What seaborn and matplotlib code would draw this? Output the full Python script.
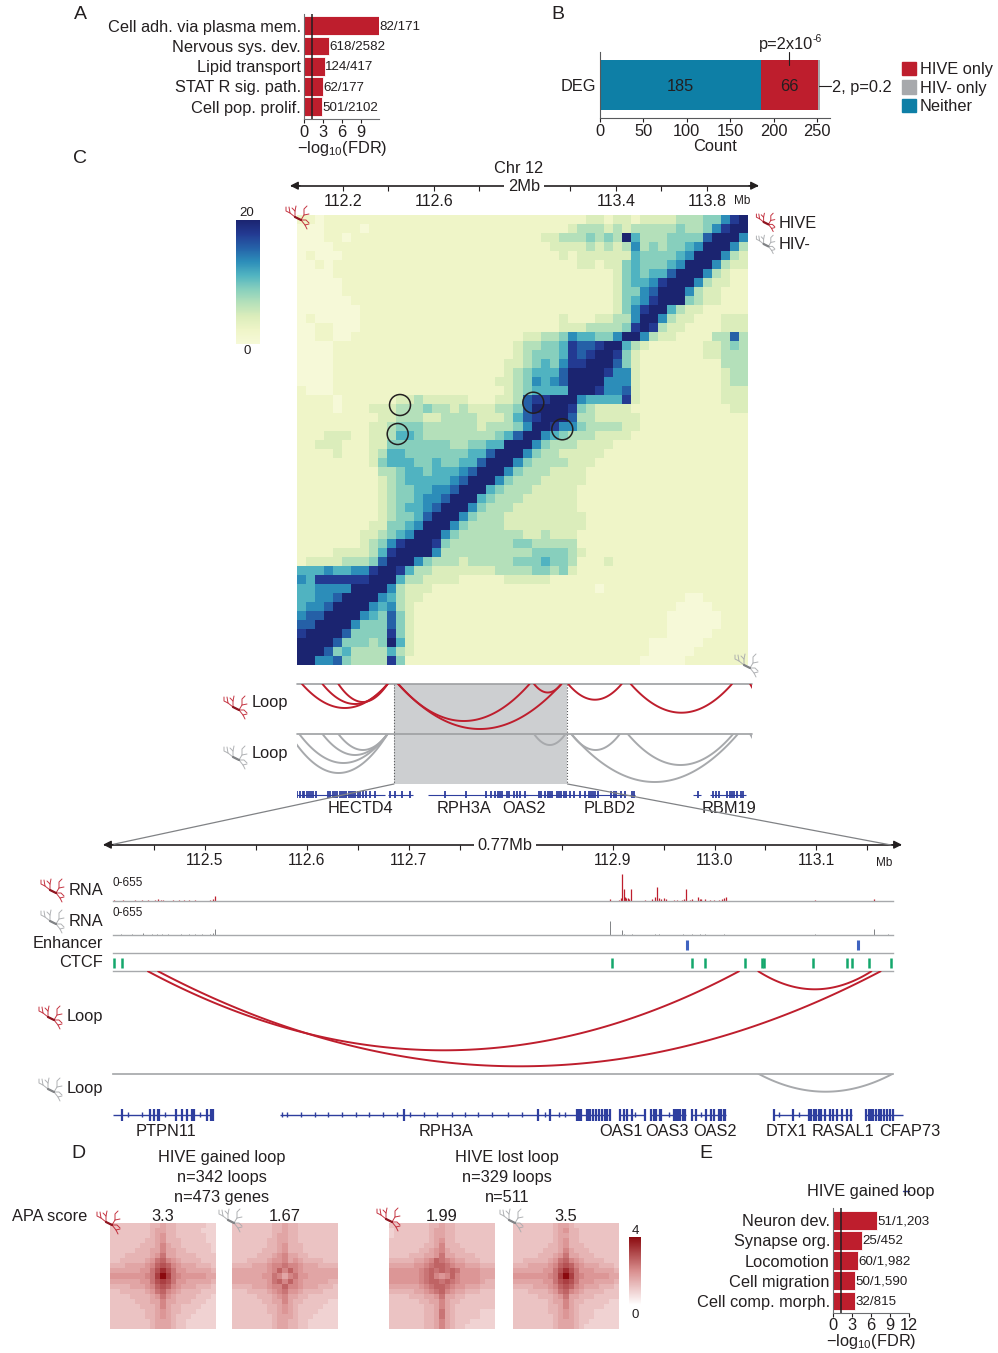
import numpy as np
import pandas as pd
import matplotlib
matplotlib.use('Agg')
import matplotlib.pyplot as plt
from matplotlib.patches import Circle, Rectangle, Patch
import seaborn as sns

sns.set_theme(style='white')
plt.rcParams['font.family'] = ['Liberation Sans', 'DejaVu Sans']
plt.rcParams['mathtext.default'] = 'regular'
plt.rcParams['text.color'] = '#231f20'
plt.rcParams['axes.labelcolor'] = '#231f20'
plt.rcParams['xtick.color'] = '#231f20'
plt.rcParams['ytick.color'] = '#231f20'

W, H = 998, 1353
RED = '#be1e2d'
GREY = '#a7a9ac'
TEAL = '#0e7fa6'
BLUE = '#2e3e9e'
FS = 11.8

# ------ panel A ------
a_terms = ['Cell adh. via plasma mem.', 'Nervous sys. dev.', 'Lipid transport', 'STAT R sig. path.', 'Cell pop. prolif.']
a_fdr = [11.8, 3.9, 3.3, 3.0, 2.9]
a_counts = ['82/171', '618/2582', '124/417', '62/177', '501/2102']

# ------ panel B ------
b_neither = 185
b_hive = 66
b_hiv = 2

# ------ panel E ------
e_terms = ['Neuron dev.', 'Synapse org.', 'Locomotion', 'Cell migration', 'Cell comp. morph.']
e_fdr = [7.05, 4.7, 3.95, 3.5, 3.5]
e_counts = ['51/1,203', '25/452', '60/1,982', '50/1,590', '32/815']

# ------ Hi-C matrix, levels 0-9 (20 = level 9) ------
hic_rows = [
    "1101111111 1111111111 1111111111 1122122122 2233344689",
    "0001111011 1111111111 1111111111 2333232333 3343346899",
    "0001101111 1111111111 1111111223 3343439533 3444479996",
    "0000111111 1111111111 1111111122 2232323634 3445699963",
    "0100011111 1111111111 1111111112 1222222544 4456999632",
    "0010111111 1111111111 1111111111 1221224544 4569996322",
    "0000111111 1111111111 1111111111 1111124545 5799963211",
    "0000011111 1111111111 1111111111 1111124556 8999632211",
    "0000011111 1111111111 1111111111 1111124467 9996322111",
    "0000001111 1111111111 1111111111 1111124568 9994322111",
    "0000000111 1111111111 1111111111 1111124689 9532211111",
    "0100000111 1111111111 1111111112 1112233699 6322111222",
    "0011000111 1111111111 1111111112 2233334898 3221111222",
    "0011001111 1111111111 1111122334 6554469963 2211113373",
    "0000111111 1111111111 1111233445 8778995321 1111122343",
    "0000111111 1111111111 1111234445 8789984211 1111122333",
    "0000111111 1111111111 1112234546 8899974211 1111111333",
    "0000111111 1111111111 1112345557 9999866211 1111111233",
    "0000111111 1111111111 1122346567 9999666211 1111111233",
    "1000111111 1111111111 1112345555 9998667211 1111111222",
    "1111011111 1223222221 1122378899 9655558211 1111111222",
    "1111011122 2333433232 2233479999 8432222111 1111111122",
    "1111111112 2333223333 2223578999 7332222211 1111111111",
    "1111111122 3444333333 2333469986 6433332211 1111111111",
    "1112221122 3554333333 3345799654 3332222111 1111111111",
    "1122211122 4444444334 4559996433 3222211111 1111111111",
    "1111211123 5544444445 5799964332 2222111111 1111111111",
    "1111111124 5554454455 7999643333 2221111111 1111111111",
    "1111111113 3455455567 9996433322 2211111111 1111111111",
    "1111111112 3455555679 9964333222 2211111111 1111111111",
    "1111111112 3445566799 9543332222 2111111111 1111111111",
    "1111111112 3445667999 5433322222 2111111111 1111111111",
    "1111111112 3455679996 4333222222 2111111111 1111111111",
    "1111111112 3445799964 3332222222 2211111111 1111111111",
    "1111111122 4456999643 3332222222 2211111111 1111111111",
    "1111111223 4569996433 3333322322 2111111111 1111111111",
    "1111111234 6899984333 3333443333 3111111111 1111111111",
    "1111222235 8999963333 3333334444 3211111111 1111111111",
    "1222233347 9996433323 3333444544 3111211111 1111111111",
    "5556556689 9853322222 2233334434 2111111111 1111111111",
    "6588888899 9533222211 1112222211 1111111111 1111111111",
    "5566669999 6322211111 1111111111 1110111111 1111111111",
    "5566799996 5322111111 1111111111 1111111111 1110011111",
    "5667999965 6321111111 1111111111 1111111111 1100001111",
    "6779999654 7421111111 1111111111 1111111111 1000000111",
    "7799996444 7421111111 1111111111 1111111111 1000000111",
    "8999974444 8421111111 1111111111 1111111111 1000001111",
    "9999744434 9521111111 1111111111 1111111110 0000011111",
    "9997453333 5321111111 1111111111 1111111110 0000111111",
    "9966743333 8411111111 1111111111 1111111100 0001111111",
]

# ------ loops over the 2Mb window (Mb, Mb, depth) ------
top_hive_start = [112.02, 112.11, 112.18, 112.443, 112.443, 113.04, 113.19, 113.465, 113.99]
top_hive_end = [112.396, 112.396, 112.396, 113.02, 113.16, 113.16, 113.425, 113.91, 114.245]
top_hive_depth = [24, 20, 18, 37, 45, 8.5, 15.7, 28.7, 26]
top_hiv_start = [111.965, 112.008, 112.11, 112.18, 113.04, 113.204, 113.204, 113.452, 113.99]
top_hiv_end = [112.396, 112.396, 112.396, 112.396, 113.178, 113.417, 113.936, 113.915, 114.245]
top_hiv_depth = [39, 29, 21, 16, 11, 16, 48, 31, 26]

# genes of the 2Mb window
top_gene_start = [111.992, 112.4, 112.573, 112.86, 113.74, 113.815]
top_gene_end = [112.384, 112.51, 113.012, 113.484, 113.775, 113.97]
top_exons = [112.0, 112.012, 112.025, 112.03, 112.04, 112.05, 112.06, 112.07, 112.08, 112.133, 112.145, 112.155, 112.165,
             112.175, 112.185, 112.195, 112.205, 112.215, 112.225, 112.235, 112.245, 112.255, 112.265, 112.275, 112.29,
             112.3, 112.32, 112.34, 112.405, 112.43, 112.46, 112.495, 112.65, 112.74, 112.83, 112.85, 112.87, 112.88,
             112.89, 112.9, 112.92, 112.93, 112.95, 112.965, 112.98, 113.0, 113.06, 113.07, 113.09, 113.1, 113.11, 113.12,
             113.14, 113.15, 113.16, 113.17, 113.18, 113.2, 113.215, 113.24, 113.265, 113.28, 113.29, 113.3, 113.31, 113.32,
             113.38, 113.39, 113.4, 113.42, 113.44, 113.47, 113.48, 113.76, 113.825, 113.84, 113.855, 113.89, 113.9, 113.91,
             113.92, 113.93, 113.95, 113.96]
top_gene_names = ['HECTD4', 'RPH3A', 'OAS2', 'PLBD2', 'RBM19']
top_gene_pos = [112.275, 112.732, 112.996, 113.374, 113.897]

# ------ 0.77Mb window ------
rna_hive_pos = [112.411, 112.42, 112.431, 112.438, 112.444, 112.451, 112.454, 112.457, 112.459, 112.469, 112.474, 112.479,
                112.484, 112.49, 112.505, 112.508, 112.51,
                112.897, 112.906, 112.908, 112.909, 112.911, 112.912, 112.913, 112.915, 112.916, 112.918, 112.932, 112.939,
                112.942, 112.944, 112.946, 112.948, 112.95, 112.952, 112.96, 112.963, 112.968, 112.97, 112.972, 112.976,
                112.978, 112.984, 112.986, 112.987, 112.991, 112.996, 113.0, 113.004, 113.007, 113.009, 113.011, 113.099,
                113.157]
rna_hive_val = [20, 20, 20, 20, 20, 30, 40, 30, 20, 20, 20, 20, 20, 20, 30, 40, 105,
                40, 20, 65, 570, 250, 85, 65, 65, 40, 250, 20, 40, 85, 295, 65, 40, 65, 40, 20, 20, 20, 40, 260, 20, 40, 85,
                40, 40, 40, 20, 20, 20, 40, 65, 85, 20, 50]
rna_hiv_pos = [112.418, 112.428, 112.439, 112.448, 112.453, 112.458, 112.464, 112.476, 112.484, 112.49, 112.497, 112.505,
               112.508, 112.51, 112.897, 112.909, 112.911, 112.919, 112.942, 112.946, 112.969, 112.978, 112.986, 112.991,
               113.009, 113.099, 113.157, 113.17]
rna_hiv_val = [15, 20, 40, 20, 20, 20, 15, 15, 30, 20, 15, 20, 40, 120, 300, 105, 30, 30, 15, 15, 15, 15, 30, 15, 15, 15, 130, 15]
enhancer_pos = [112.973, 113.141]
ctcf_pos = [112.411, 112.419, 112.899, 112.978, 112.991, 113.03, 113.047, 113.049, 113.097, 113.13, 113.135, 113.152, 113.173]

zoom_hive_start = [112.444, 112.454, 113.043]
zoom_hive_end = [113.024, 113.163, 113.154]
zoom_hive_depth = [79, 95, 18]
zoom_hiv_start = [113.043]
zoom_hiv_end = [113.175]
zoom_hiv_depth = [18]

gene_start = [112.41, 112.574, 112.906, 112.937, 112.977, 113.057, 113.148]
gene_end = [112.508, 112.897, 112.932, 112.972, 113.011, 113.135, 113.185]
exons_small = [112.424, 112.438, 112.461, 112.495, 112.576, 112.58, 112.594, 112.608, 112.621, 112.634, 112.648, 112.661,
               112.675, 112.688, 112.701, 112.715, 112.728, 112.742, 112.755, 112.768, 112.782, 112.797, 112.811, 112.834,
               112.847, 112.853, 112.922, 112.955, 112.987, 113.063, 113.083]
exons_big = [112.419, 112.446, 112.45, 112.454, 112.455, 112.472, 112.477, 112.482, 112.487, 112.489, 112.502, 112.506, 112.508,
             112.695, 112.827, 112.839, 112.865, 112.867, 112.869, 112.875, 112.877, 112.878, 112.881, 112.884, 112.887,
             112.89, 112.893, 112.895, 112.897, 112.907, 112.911, 112.914, 112.919, 112.932, 112.938, 112.941, 112.943,
             112.947, 112.948, 112.96, 112.962, 112.964, 112.966, 112.969, 112.971, 112.978, 112.982, 112.992, 112.997, 113.0,
             113.004, 113.006, 113.009, 113.01, 113.058, 113.077, 113.093, 113.095, 113.098, 113.1, 113.103, 113.105, 113.108,
             113.113, 113.116, 113.12, 113.125, 113.13, 113.134, 113.149, 113.152, 113.154, 113.156, 113.159, 113.161, 113.163,
             113.166, 113.169, 113.172, 113.175]
gene_names = ['PTPN11', 'RPH3A', 'OAS1', 'OAS3', 'OAS2', 'DTX1', 'RASAL1', 'CFAP73']
gene_name_x = [166, 446, 621, 667, 715, 786, 843, 910]

# ------ APA matrices, hex levels (f = 4) ------
apa_gain_hive = [
    "44444444 5 565 5 44444 433", "44444444 5 665 5 44444 333", "44444444 5 675 5 44444 433", "44444445 5 675 5 54444 433",
    "44444455 5 686 5 54444 443", "44444555 6 686 6 55444 443", "44455555 6 796 6 55554 444", "44555556 7 9a8 7 65555 444",
    "55566667 8 aba 8 76665 554", "66666677 9 bdb 9 77666 665", "77777778 9 cfc 9 87777 766", "66666677 9 bcb 9 77666 665",
    "55556667 8 aba 8 76665 554", "44555556 7 9a8 7 65555 444", "44445555 6 797 6 55554 443", "44444555 6 686 6 55544 433",
    "44444455 5 686 5 54444 333", "44444445 5 676 5 54443 333", "44444445 5 676 5 44433 333", "44444444 5 666 5 44333 333",
    "44444444 5 666 5 44333 333"]
apa_gain_hiv = [
    "44444444 5 565 5 44444 444", "44444444 5 565 5 44444 444", "44444444 5 665 5 44444 444", "44444445 5 665 5 44444 444",
    "44444445 5 675 5 54444 444", "44444455 5 675 5 54444 444", "44444555 6 786 6 55444 444", "44455556 7 786 7 65555 444",
    "55556667 8 898 8 76665 555", "66666667 8 a8a 8 76666 666", "66666677 9 868 9 77666 666", "66666667 9 a8a 8 76666 655",
    "55556667 8 8a8 8 76665 554", "44455556 7 897 7 65555 444", "44444555 6 786 6 55444 444", "44444455 6 686 5 54444 433",
    "44444445 5 676 5 44444 333", "44444445 5 676 5 44443 333", "44444444 5 666 5 44433 333", "44444444 5 665 5 44333 333",
    "44444444 5 665 5 44333 333"]
apa_lost_hive = [
    "44444444 5 565 5 44444 444", "34444444 5 665 5 44444 444", "34444444 5 665 5 44444 444", "44444444 5 675 5 44444 444",
    "44444445 5 685 5 54444 444", "44444455 6 786 5 55444 444", "44445556 6 796 6 55554 444", "55555667 8 a98 7 66555 444",
    "66666778 9 aa9 8 77666 555", "77777789 a 9a9 a 97777 666", "77777789 a 878 a 87777 666", "77777789 a a9a 9 87777 655",
    "66666678 9 aa9 8 77666 555", "55555667 8 9a8 7 66555 444", "44445556 6 796 6 55444 444", "44444455 6 686 5 54444 444",
    "44444445 5 686 5 44444 444", "44444445 5 696 5 44444 333", "44444445 5 696 5 44444 333", "44444445 5 686 5 44433 333",
    "44444445 5 686 5 44333 333"]
apa_lost_hiv = [
    "44444444 5 665 4 44444 444", "44444444 5 675 5 44444 444", "44444444 5 665 5 44444 444", "44444444 5 675 5 44444 444",
    "44444445 5 675 5 54444 444", "44444455 5 686 5 55444 444", "44444555 6 796 6 55544 444", "44555556 7 9a8 7 65555 444",
    "55566667 8 aba 8 76665 554", "66666677 9 bdb 9 77766 665", "77777778 9 cfc 9 87777 766", "66666677 9 bcb 9 77766 665",
    "55556667 8 aba 8 76665 554", "44455556 7 9a8 7 65555 444", "44444555 6 796 6 55544 444", "44444445 6 686 5 54444 433",
    "44444445 5 686 5 44444 333", "44444445 5 676 5 44433 333", "44444444 5 676 5 44433 333", "44444444 5 666 5 44333 333",
    "44444444 5 666 5 43333 333"]
apa_scores = ['3.3', '1.67', '1.99', '3.5']

fig = plt.figure(figsize=(W / 100, H / 100), dpi=100)


def px_ax(l, t, r, b, z=5):
    ax = fig.add_axes([l / W, 1 - b / H, (r - l) / W, (b - t) / H], zorder=z)
    ax.patch.set_visible(False)
    return ax


def clean(ax):
    ax.set_xticks([])
    ax.set_yticks([])
    for s in ax.spines.values():
        s.set_visible(False)


# pixel layers for shading (under) and labels / icons (over)
bg = px_ax(0, 0, W, H, z=0)
bg.set_xlim(0, W)
bg.set_ylim(H, 0)
bg.axis('off')
ov = px_ax(0, 0, W, H, z=20)
ov.set_xlim(0, W)
ov.set_ylim(H, 0)
ov.axis('off')


def label(x, y, s, size=FS, ha='center', **kw):
    ov.text(x, y + 1.5, s, fontsize=size, ha=ha, va='center', **kw)


def neuron(x, y, color, s=1.0):
    branches = [[(-3, 0), (-8, -4), (-9, -10)], [(-8, -4), (-12, -6), (-12, -10)], [(-3, 0), (-3, -6), (-2, -11)],
                [(-3, -6), (-6, -9)], [(3, 3), (6, -2), (6, -8), (9, -11)], [(6, -2), (11, -3)], [(3, 3), (8, 3), (11, 6)],
                [(3, 3), (7, 8), (9, 12)], [(7, 8), (11, 7)], [(-3, 0), (3, 3)]]
    for b in branches:
        b = np.array(b) * s
        ov.plot(b[:, 0] + x, b[:, 1] + y, color=color, lw=0.7, solid_capstyle='round', alpha=0.9)
    dark = '#8e1520' if color == RED else '#808285'
    ov.plot([x - 3 * s, x + 3 * s], [y, y + 3 * s], color=dark, lw=1.6)


def bars(ax, terms, vals, counts, xmax, ticks, ylim):
    sns.barplot(x=vals, y=terms, color=RED, saturation=1, width=0.93, edgecolor='white', linewidth=0.6, ax=ax)
    ax.set_xlim(0, xmax)
    ax.set_ylim(*ylim)
    ax.set_xticks(ticks)
    ax.tick_params(axis='x', labelsize=FS, length=3, width=0.8, pad=1, bottom=True)
    ax.tick_params(axis='y', labelsize=FS, length=0, pad=2)
    ax.axvline(1.3, color='#231f20', lw=1.1)
    for s in ['top', 'right']:
        ax.spines[s].set_visible(False)
    for s in ['left', 'bottom']:
        ax.spines[s].set_color('#6d6e71')
        ax.spines[s].set_linewidth(0.8)
    for i, c in enumerate(counts):
        ax.text(vals[i] + 0.05, i + 0.05, c, fontsize=9.6, va='center', ha='left')


# ------ A ------
ax_a = px_ax(304, 14, 379, 119.3)
bars(ax_a, a_terms, a_fdr, a_counts, 11.8, [0, 3, 6, 9], (4.62, -0.58))
label(342, 147, '$-$log$_{10}$(FDR)')

# ------ B ------
ax_b = px_ax(600, 52, 830, 118)
deg = ['DEG']
sns.barplot(x=[b_neither + b_hive + b_hiv], y=deg, color=GREY, saturation=1, width=0.745, edgecolor='none', ax=ax_b)
sns.barplot(x=[b_neither + b_hive], y=deg, color=RED, saturation=1, width=0.745, edgecolor='none', ax=ax_b)
sns.barplot(x=[b_neither], y=deg, color=TEAL, saturation=1, width=0.745, edgecolor='none', ax=ax_b)
ax_b.set_xlim(0, 265)
ax_b.set_ylim(0.5, -0.5)
ax_b.set_xticks([0, 50, 100, 150, 200, 250])
ax_b.tick_params(axis='x', labelsize=FS, length=3, width=0.8, pad=1, bottom=True)
ax_b.tick_params(axis='y', labelsize=FS, length=0, pad=3)
ax_b.set_xlabel('Count', fontsize=FS, labelpad=0)
for s in ['top', 'right']:
    ax_b.spines[s].set_visible(False)
for s in ['left', 'bottom']:
    ax_b.spines[s].set_color('#58595b')
    ax_b.spines[s].set_linewidth(0.8)
ax_b.text(b_neither / 2, 0.02, str(b_neither), fontsize=FS, ha='center', va='center')
ax_b.text(b_neither + b_hive / 2, 0.02, str(b_hive), fontsize=FS, ha='center', va='center')
ov.plot([789, 789], [52, 65], color='#231f20', lw=0.8)
label(759, 43, 'p=2x10', ha='left')
label(813, 37, '-6', size=7.5, ha='left')
ov.plot([819, 831], [85.5, 85.5], color='#231f20', lw=0.8)
label(832, 86, '2, p=0.2', ha='left')
fig.legend(handles=[Patch(color=RED), Patch(color=GREY), Patch(color=TEAL)], labels=['HIVE only', 'HIV- only', 'Neither'],
           loc='upper left', bbox_to_anchor=(902 / W, 1 - 62 / H), frameon=False, fontsize=FS, handlelength=0.85,
           handleheight=0.85, handletextpad=0.25, labelspacing=0.2, borderpad=0, borderaxespad=0)

for x, y, s in [(80, 13, 'A'), (558, 13, 'B'), (80, 157, 'C'), (78, 1152, 'D'), (706, 1152, 'E')]:
    label(x, y, s, size=14)

# ------ C ruler ------
ax_r = px_ax(292, 185, 757, 186)
clean(ax_r)
ax_r.spines['bottom'].set_visible(True)
ax_r.spines['bottom'].set_color('#231f20')
ax_r.spines['bottom'].set_linewidth(1.2)
ax_r.set_xlim(111.976, 114.02)
ax_r.set_xticks([112.2, 112.4, 112.6, 112.8, 113.2, 113.4, 113.6, 113.8])
ax_r.set_xticklabels(['112.2', '', '112.6', '', '', '113.4', '', '113.8'])
ax_r.tick_params(axis='x', bottom=True, length=3.5, width=0.8, labelsize=11.5, pad=2.5)
for x0, x1 in [(300, 290), (749, 759)]:
    ov.annotate('', xy=(x1, 185.7), xytext=(x0, 185.7), arrowprops=dict(arrowstyle='-|>', color='#231f20', lw=1, shrinkA=0, shrinkB=0))
label(519, 167, 'Chr 12')
label(524, 185, '2Mb', bbox=dict(facecolor='white', edgecolor='none', pad=2.5))
label(742, 200, 'Mb', size=8.5)

# ------ C heatmap ------
hic = pd.DataFrame([[int(c) for c in r.replace(' ', '')] for r in hic_rows])
hic_cmap = sns.blend_palette(['#f6f9d8', '#eff5c8', '#dbedbb', '#b4e0ba', '#86cfbd', '#50b3c1', '#2c8db9', '#2561a8', '#233a92',
                              '#1b2470'], as_cmap=True)
ax_h = px_ax(297, 215, 748, 665)
cax = px_ax(236, 220, 260, 344)
sns.heatmap(hic, cmap=hic_cmap, vmin=0, vmax=9, ax=ax_h, cbar_ax=cax, xticklabels=False, yticklabels=False)
cax.set_yticks([])
ax_h.collections[0].colorbar.outline.set_visible(False)
label(247, 212, '20', size=9.5)
label(247, 350, '0', size=9.5)
for x, y in [(400, 405), (397.7, 434), (533.3, 402.7), (562.3, 429.3)]:
    ov.add_patch(Circle((x, y), 10.5, fill=False, edgecolor='#231f20', lw=1.1))
neuron(298, 217, RED)
neuron(766, 222, RED, 0.8)
neuron(766, 244, GREY, 0.8)
neuron(747, 665, GREY)
label(779, 222, 'HIVE', ha='left')
label(779, 243, 'HIV-', ha='left')


# ------ C loops ------
def arcs(ax, start, end, depth, color):
    t = np.linspace(0, 1, 120)
    for s, e, d in zip(start, end, depth):
        ax.plot(s + (e - s) * t, d * 4 * t * (1 - t), color=color, lw=1.4)


top_xlim = (111.998, 113.998)  # px 297-752
for top, st, en, de, col in [(684, top_hive_start, top_hive_end, top_hive_depth, RED),
                             (734, top_hiv_start, top_hiv_end, top_hiv_depth, GREY)]:
    ax_l = px_ax(297, top, 752, top + 50)
    clean(ax_l)
    ax_l.set_xlim(*top_xlim)
    ax_l.set_ylim(50, 0)
    ax_l.axhline(0, color='#9d9fa2', lw=1.2, clip_on=False)
    arcs(ax_l, st, en, de, col)
bg.add_patch(Rectangle((394, 684), 173.5, 100, facecolor='#cdcfd1', edgecolor='none'))
for x in [394, 567.5]:
    bg.plot([x, x], [684, 784], color='#58595b', lw=0.8, ls=':')
ov.plot([394, 110], [784, 845], color='#808285', lw=0.9)
ov.plot([567.5, 891], [784, 845], color='#808285', lw=0.9)
neuron(236, 707, RED)
neuron(236, 757, GREY)
label(288, 701, 'Loop', ha='right')
label(288, 752, 'Loop', ha='right')

ax_g = px_ax(297, 785, 752, 804)
clean(ax_g)
ax_g.set_xlim(*top_xlim)
ax_g.set_ylim(-1, 1)
ax_g.hlines([0] * len(top_gene_start), top_gene_start, top_gene_end, color=BLUE, lw=0.8)
ax_g.vlines(top_exons, -0.37, 0.37, color=BLUE, lw=1.3)
for name, x in zip(top_gene_names, top_gene_pos):
    ax_g.text(x, -1.5, name, fontsize=FS, ha='center', va='center', clip_on=False)

# ------ 0.77Mb ruler ------
ax_z = px_ax(105, 844, 900, 845)
clean(ax_z)
ax_z.spines['bottom'].set_visible(True)
ax_z.spines['bottom'].set_color('#231f20')
ax_z.spines['bottom'].set_linewidth(1.2)
ax_z.set_xlim(112.4019, 113.182)
ax_z.set_xticks([112.45, 112.5, 112.55, 112.6, 112.65, 112.7, 112.75, 112.85, 112.9, 112.95, 113.0, 113.05, 113.1, 113.15])
ax_z.set_xticklabels(['', '112.5', '', '112.6', '', '112.7', '', '', '112.9', '', '113.0', '', '113.1', ''])
ax_z.tick_params(axis='x', bottom=True, length=3.5, width=0.8, labelsize=11.2, pad=2.5)
for x0, x1 in [(113, 103), (892, 902)]:
    ov.annotate('', xy=(x1, 844.7), xytext=(x0, 844.7), arrowprops=dict(arrowstyle='-|>', color='#231f20', lw=1, shrinkA=0, shrinkB=0))
label(505, 844, '0.77Mb', bbox=dict(facecolor='white', edgecolor='none', pad=2.5))
label(884, 861, 'Mb', size=8.5)

# ------ tracks ------
zoom_xlim = (112.4097, 113.1752)  # px 113-893


def track(top, bottom):
    ax = px_ax(113, top, 893, bottom)
    clean(ax)
    ax.spines['bottom'].set_visible(True)
    ax.spines['bottom'].set_color('#a7a9ac')
    ax.spines['bottom'].set_linewidth(1)
    ax.set_xlim(*zoom_xlim)
    return ax


ax_t = track(870, 901)
ax_t.set_ylim(0, 655)
ax_t.vlines(rna_hive_pos, 0, rna_hive_val, color=RED, lw=0.9)
ax_t = track(904, 935)
ax_t.set_ylim(0, 655)
ax_t.vlines(rna_hiv_pos, 0, rna_hiv_val, color='#808285', lw=0.7)
ax_t = track(935, 953.3)
ax_t.set_ylim(0, 1)
ax_t.vlines(enhancer_pos, 0.17, 0.72, color='#3f63c0', lw=2.2)
ax_t = track(953.3, 971.3)
ax_t.set_ylim(0, 1)
ax_t.vlines(ctcf_pos, 0.17, 0.72, color='#14a76c', lw=1.8)

label(113, 882, '0-655', size=8.5, ha='left')
label(113, 911, '0-655', size=8.5, ha='left')
neuron(53, 890, RED)
neuron(53, 921, GREY)
neuron(51, 1017, RED)
neuron(51, 1089, GREY)
label(103, 889, 'RNA', ha='right')
label(103, 920, 'RNA', ha='right')
label(103, 942, 'Enhancer', ha='right')
label(103, 961, 'CTCF', ha='right')
label(103, 1015, 'Loop', ha='right')
label(103, 1087, 'Loop', ha='right')

ax_l = px_ax(113, 971.3, 893, 1073.7)
clean(ax_l)
ax_l.spines['bottom'].set_visible(True)
ax_l.spines['bottom'].set_color('#a7a9ac')
ax_l.set_xlim(*zoom_xlim)
ax_l.set_ylim(102.4, 0)
arcs(ax_l, zoom_hive_start, zoom_hive_end, zoom_hive_depth, RED)
ax_l = px_ax(113, 1073.7, 893, 1100)
clean(ax_l)
ax_l.set_xlim(*zoom_xlim)
ax_l.set_ylim(26.3, 0)
arcs(ax_l, zoom_hiv_start, zoom_hiv_end, zoom_hiv_depth, GREY)

ax_g = px_ax(113, 1105, 893, 1124)
clean(ax_g)
ax_g.set_xlim(*zoom_xlim)
ax_g.set_ylim(-9.5, 9.5)
ax_g.hlines([0] * len(gene_start), gene_start, gene_end, color=BLUE, lw=1, clip_on=False)
ax_g.vlines(exons_small, -2.5, 2.5, color=BLUE, lw=1)
ax_g.vlines(exons_big, -6, 6, color=BLUE, lw=1.6, clip_on=False)
for name, x in zip(gene_names, gene_name_x):
    label(x, 1130, name)

# ------ D ------
apa_cmap = sns.blend_palette(['#ffffff', '#d98f8f', '#8b0a0f'], as_cmap=True)
apa_boxes = [(110, 216), (232, 338), (389, 495), (513, 619)]
apa_data = [apa_gain_hive, apa_gain_hiv, apa_lost_hive, apa_lost_hiv]
apa_cax = px_ax(629, 1237, 641, 1305)
for i, (box, rows) in enumerate(zip(apa_boxes, apa_data)):
    mat = pd.DataFrame([[int(c, 16) / 15 * 4 for c in r.replace(' ', '')] for r in rows])
    ax_d = px_ax(box[0], 1223, box[1], 1329)
    sns.heatmap(mat, cmap=apa_cmap, vmin=0, vmax=4, ax=ax_d, cbar=i == 3, cbar_ax=apa_cax if i == 3 else None,
                xticklabels=False, yticklabels=False)
apa_cax.set_yticks([])
ax_d.collections[0].colorbar.outline.set_visible(False)
label(635, 1229, '4', size=9.5)
label(635, 1314, '0', size=9.5)
for x, s in zip([163, 285, 442, 566], apa_scores):
    label(x, 1215, s)
label(12, 1215, 'APA score', ha='left')
for y, s1, s2 in [(1156, 'HIVE gained loop', 'HIVE lost loop'), (1176, 'n=342 loops', 'n=329 loops'), (1196, 'n=473 genes', 'n=511')]:
    label(222, y, s1)
    label(507, y, s2)
neuron(109, 1222, RED)
neuron(231, 1220, GREY)
neuron(389, 1219, RED)
neuron(512, 1220, GREY)

# ------ E ------
ax_e = px_ax(832.7, 1208, 908.7, 1312.7)
bars(ax_e, e_terms, e_fdr, e_counts, 12, [0, 3, 6, 9, 12], (4.58, -0.6))
label(871, 1340, '$-$log$_{10}$(FDR)')
label(871, 1190, 'HIVE gained loop')
ov.plot([903, 909], [1190.5, 1190.5], color=BLUE, lw=1)

fig.savefig('out.png', dpi=100)
